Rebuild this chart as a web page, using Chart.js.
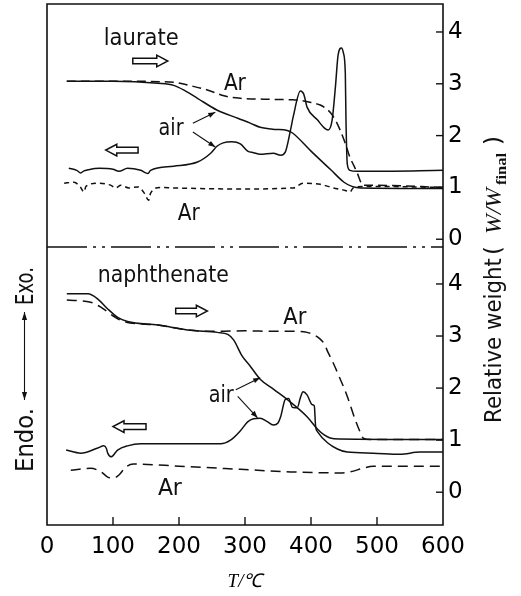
<!DOCTYPE html>
<html><head><meta charset="utf-8">
<script src="https://cdn.jsdelivr.net/npm/chart.js@4"></script>
<style>html,body{margin:0;padding:0;background:#fff}canvas{display:block}</style>
</head><body>
<canvas id="c" width="521" height="596"></canvas>
<script>
// ---------- data (T in °C, value in relative-weight units of each panel) ----------
const xTicks = [0, 100, 200, 300, 400, 500, 600];
const wTicks = [0, 1, 2, 3, 4];

// laurate (upper panel)
const laurateTgAir = [[30,3.05],[100,3.05],[168,3.01],[192,2.97],[210,2.86],[228,2.72],[258,2.49],[290,2.33],[308,2.24],[323,2.16],[345,2.12],[364,2.10],[372,2.05],[400,1.70],[430,1.34],[450,1.10],[462,1.02],[475,0.99],[600,0.98]];
const laurateTgAr = [[30,3.05],[100,3.05],[192,3.03],[215,2.97],[243,2.88],[265,2.78],[278,2.74],[293,2.72],[340,2.70],[373,2.69],[384,2.68],[400,2.64],[414,2.59],[422,2.53],[429,2.45],[437,2.30],[444,2.11],[452,1.85],[459,1.58],[465,1.42],[470,1.28],[479,1.04],[500,1.04],[600,1.00]];
const laurateDtaAir = [[33,1.37],[45,1.33],[51,1.28],[56,1.32],[62,1.34],[79,1.37],[100,1.35],[109,1.31],[122,1.37],[142,1.33],[153,1.27],[157,1.33],[192,1.41],[228,1.49],[248,1.66],[258,1.80],[267,1.86],[280,1.88],[293,1.84],[304,1.70],[313,1.67],[323,1.64],[343,1.66],[354,1.62],[361,1.68],[369,2.11],[373,2.36],[384,2.86],[389,2.80],[394,2.55],[410,2.30],[420,2.15],[426,2.11],[432,2.30],[437,2.94],[441,3.55],[446,3.69],[449,3.60],[452,3.20],[453,2.30],[455,1.45],[459,1.33],[470,1.31],[494,1.31],[600,1.33]];
const laurateDtaAr = [[26,1.08],[41,1.10],[51,1.00],[56,0.91],[59,1.02],[77,1.08],[97,1.04],[104,0.99],[112,1.04],[124,0.99],[138,1.01],[148,0.88],[154,0.75],[157,0.89],[172,1.00],[192,0.99],[293,0.97],[373,0.99],[388,1.08],[414,1.06],[434,0.99],[452,0.94],[459,0.91],[464,0.99],[479,1.02],[600,1.00]];

// naphthenate (lower panel)
const naphTgAir = [[30,3.81],[62,3.81],[77,3.71],[92,3.52],[107,3.36],[122,3.28],[168,3.21],[218,3.11],[258,3.07],[274,3.03],[283,2.92],[295,2.63],[308,2.42],[323,2.17],[344,1.97],[364,1.78],[394,1.45],[410,1.21],[420,1.10],[429,1.04],[444,1.02],[600,1.01]];
const naphTgAr = [[30,3.69],[66,3.65],[82,3.55],[101,3.38],[116,3.28],[168,3.21],[218,3.11],[258,3.09],[300,3.10],[343,3.09],[380,3.09],[394,3.07],[405,3.02],[414,2.94],[420,2.85],[426,2.68],[433,2.50],[440,2.30],[455,1.84],[467,1.39],[475,1.14],[479,1.04],[490,1.01],[600,1.01]];
const naphDtaAir = [[29,0.81],[51,0.75],[77,0.85],[86,0.89],[90,0.84],[92,0.75],[97,0.68],[107,0.81],[122,0.89],[142,0.93],[263,0.93],[278,1.00],[293,1.18],[304,1.35],[313,1.41],[323,1.42],[333,1.36],[343,1.29],[350,1.33],[354,1.45],[361,1.78],[366,1.80],[372,1.63],[379,1.62],[384,1.82],[388,1.93],[394,1.87],[402,1.68],[405,1.66],[407,1.26],[410,1.16],[425,0.95],[440,0.83],[455,0.77],[494,0.75],[535,0.73],[565,0.77],[600,0.77]];
const naphDtaAr = [[36,0.42],[66,0.46],[82,0.39],[92,0.29],[100,0.27],[109,0.33],[119,0.48],[131,0.54],[200,0.50],[293,0.44],[369,0.39],[444,0.37],[459,0.39],[479,0.46],[494,0.50],[546,0.50],[600,0.50]];

// ---------- chart ----------
const INK = '#111';
const SANS = '"DejaVu Sans", sans-serif';
const pts = a => a.map(([x, y]) => ({x, y}));
function ds(label, data, axis, dash) {
  return {label, data: pts(data), yAxisID: axis, borderColor: INK, borderWidth: 1.5,
    borderDash: dash || [], pointRadius: 0, fill: false, cubicInterpolationMode: 'monotone'};
}

// annotation text (T, value, axis), arrows etc.
const texts = [
  {t: 'laurate', x: 86, y: 3.75, ax: 'yTop', w: 75},
  {t: 'Ar', x: 268, y: 2.88, ax: 'yTop', w: 22},
  {t: 'air', x: 169, y: 2.01, ax: 'yTop', w: 25},
  {t: 'Ar', x: 198, y: 0.37, ax: 'yTop', w: 22},
  {t: 'naphthenate', x: 77, y: 4.04, ax: 'yBot', w: 131},
  {t: 'Ar', x: 358, y: 3.23, ax: 'yBot', w: 23},
  {t: 'air', x: 245, y: 1.74, ax: 'yBot', w: 25},
  {t: 'Ar', x: 168, y: -0.06, ax: 'yBot', w: 24}
];
const hollow = [
  {x1: 130, x2: 183, y: 3.44, ax: 'yTop', dir: 1},
  {x1: 89, x2: 138, y: 1.72, ax: 'yTop', dir: -1},
  {x1: 195, x2: 243, y: 3.48, ax: 'yBot', dir: 1},
  {x1: 100, x2: 150, y: 1.26, ax: 'yBot', dir: -1}
];
const leaders = [
  {x1: 221, y1: 2.24, x2: 255, y2: 2.45, ax: 'yTop'},
  {x1: 221, y1: 2.07, x2: 255, y2: 1.78, ax: 'yTop'},
  {x1: 286, y1: 1.97, x2: 323, y2: 2.20, ax: 'yBot'},
  {x1: 289, y1: 1.84, x2: 319, y2: 1.43, ax: 'yBot'}
];

function fitText(ctx, t, x, y, w) {
  const m = ctx.measureText(t).width;
  ctx.save(); ctx.translate(x, y); ctx.scale(w / m, 1); ctx.fillText(t, 0, 0); ctx.restore();
}
function line(ctx, x1, y1, x2, y2) { ctx.beginPath(); ctx.moveTo(x1, y1); ctx.lineTo(x2, y2); ctx.stroke(); }

const framePlugin = {
  id: 'frame',
  afterDraw(chart) {
    const {ctx, chartArea: a, scales} = chart;
    const yT = scales.yTop, yB = scales.yBot, xs = scales.x;
    ctx.save();
    ctx.strokeStyle = INK; ctx.fillStyle = INK; ctx.lineWidth = 1.6;
    ctx.beginPath();
    ctx.moveTo(a.left, a.top); ctx.lineTo(a.right, a.top); ctx.lineTo(a.right, a.bottom);
    ctx.lineTo(a.left, a.bottom); ctx.closePath(); ctx.stroke();
    // panel divider (dash-dot)
    ctx.lineWidth = 1.3; ctx.setLineDash([40, 6, 3, 6, 3, 6]);
    line(ctx, a.left, yT.bottom, a.right, yT.bottom);
    ctx.setLineDash([]);
    // inward tick marks
    ctx.lineWidth = 1.4;
    xTicks.slice(1, -1).forEach(v => { const p = xs.getPixelForValue(v); line(ctx, p, a.bottom, p, a.bottom - 8); });
    [yT, yB].forEach(s => wTicks.forEach(v => { const p = s.getPixelForValue(v); line(ctx, a.right - 7, p, a.right, p); }));

    // annotation texts
    ctx.font = '23px ' + SANS; ctx.textAlign = 'left'; ctx.textBaseline = 'alphabetic';
    texts.forEach(o => fitText(ctx, o.t, xs.getPixelForValue(o.x), scales[o.ax].getPixelForValue(o.y), o.w));

    // hollow arrows
    hollow.forEach(o => {
      const s = scales[o.ax];
      const y = s.getPixelForValue(o.y);
      let x1 = xs.getPixelForValue(o.x1), x2 = xs.getPixelForValue(o.x2);
      const hl = 11, bh = 2.8, hh = 5.8;
      ctx.beginPath();
      if (o.dir > 0) {
        ctx.moveTo(x1, y - bh); ctx.lineTo(x2 - hl, y - bh); ctx.lineTo(x2 - hl, y - hh); ctx.lineTo(x2, y);
        ctx.lineTo(x2 - hl, y + hh); ctx.lineTo(x2 - hl, y + bh); ctx.lineTo(x1, y + bh);
      } else {
        ctx.moveTo(x2, y - bh); ctx.lineTo(x1 + hl, y - bh); ctx.lineTo(x1 + hl, y - hh); ctx.lineTo(x1, y);
        ctx.lineTo(x1 + hl, y + hh); ctx.lineTo(x1 + hl, y + bh); ctx.lineTo(x2, y + bh);
      }
      ctx.closePath(); ctx.fillStyle = '#fff'; ctx.fill(); ctx.lineWidth = 1.5; ctx.stroke(); ctx.fillStyle = INK;
    });

    // leader lines with arrowheads
    ctx.lineWidth = 1.1;
    leaders.forEach(o => {
      const s = scales[o.ax];
      const X1 = xs.getPixelForValue(o.x1), Y1 = s.getPixelForValue(o.y1);
      const X2 = xs.getPixelForValue(o.x2), Y2 = s.getPixelForValue(o.y2);
      line(ctx, X1, Y1, X2, Y2);
      const ang = Math.atan2(Y2 - Y1, X2 - X1), L = 7, W = 2.6;
      ctx.beginPath();
      ctx.moveTo(X2, Y2);
      ctx.lineTo(X2 - L * Math.cos(ang) + W * Math.sin(ang), Y2 - L * Math.sin(ang) - W * Math.cos(ang));
      ctx.lineTo(X2 - L * Math.cos(ang) - W * Math.sin(ang), Y2 - L * Math.sin(ang) + W * Math.cos(ang));
      ctx.closePath(); ctx.fill();
    });

    // left label: Endo. <--> Exo.
    ctx.save();
    ctx.translate(33, 472); ctx.rotate(-Math.PI / 2);
    ctx.font = '24px ' + SANS;
    fitText(ctx, 'Endo.', 0, 0, 64);
    fitText(ctx, 'Exo.', 167, 0, 38);
    ctx.lineWidth = 1.1;
    const ay = -8.5;
    line(ctx, 72, ay, 160, ay);
    [[72, 1], [160, -1]].forEach(([px, d]) => {
      ctx.beginPath(); ctx.moveTo(px, ay); ctx.lineTo(px + d * 8, ay - 2.6); ctx.lineTo(px + d * 8, ay + 2.6); ctx.closePath(); ctx.fill();
    });
    ctx.restore();

    // right title: Relative weight ( W/W_final )
    ctx.save();
    ctx.translate(501, 423); ctx.rotate(-Math.PI / 2);
    ctx.font = '23px ' + SANS;
    fitText(ctx, 'Relative weight', 0, 0, 165);
    ctx.fillText('(', 168, 0);
    ctx.font = 'italic 23px "Liberation Serif", serif';
    fitText(ctx, 'W/W', 189, 0, 46);
    ctx.font = 'bold 14px "Liberation Serif", serif';
    fitText(ctx, 'final', 238, 5, 32);
    ctx.font = '23px ' + SANS;
    ctx.fillText(')', 278, 0);
    ctx.restore();

    ctx.restore();
  }
};

const yFit = s => { s.width = 78; s.paddingTop = 0; s.paddingBottom = 0; };

new Chart(document.getElementById('c'), {
  type: 'line',
  data: {
    datasets: [
      ds('laurate TG air', laurateTgAir, 'yTop'),
      ds('laurate TG Ar', laurateTgAr, 'yTop', [9, 5]),
      ds('laurate DTA air', laurateDtaAir, 'yTop'),
      ds('laurate DTA Ar', laurateDtaAr, 'yTop', [5, 4]),
      ds('naphthenate TG air', naphTgAir, 'yBot'),
      ds('naphthenate TG Ar', naphTgAr, 'yBot', [10, 6]),
      ds('naphthenate DTA air', naphDtaAir, 'yBot'),
      ds('naphthenate DTA Ar', naphDtaAr, 'yBot', [10, 6])
    ]
  },
  options: {
    responsive: false, animation: false, devicePixelRatio: 1, events: [],
    layout: {padding: {left: 47, top: 4, right: 0, bottom: 0}},
    plugins: {legend: {display: false}, tooltip: {enabled: false}},
    scales: {
      x: {
        type: 'linear', position: 'bottom', min: 0, max: 600,
        grid: {display: false, drawTicks: false}, border: {display: false},
        afterBuildTicks: s => { s.ticks = xTicks.map(v => ({value: v})); },
        afterFit: s => { s.height = 71; s.paddingLeft = 0; s.paddingRight = 0; },
        ticks: {color: '#000', font: {family: 'DejaVu Sans', size: 23}, padding: 8, autoSkip: false, maxRotation: 0},
        title: {display: true, text: 'T/℃', color: '#000', padding: {top: 0, bottom: 3},
          font: {family: 'Liberation Serif', style: 'italic', size: 19}}
      },
      yTop: {
        type: 'linear', position: 'right', stack: 'rw', stackWeight: 243,
        min: -0.15, max: 4.54,
        grid: {display: false, drawTicks: false}, border: {display: false},
        afterBuildTicks: s => { s.ticks = wTicks.map(v => ({value: v})); },
        afterFit: yFit,
        ticks: {color: '#000', font: {family: 'DejaVu Sans', size: 23}, padding: 5, callback: v => String(v)}
      },
      yBot: {
        type: 'linear', position: 'right', stack: 'rw', stackWeight: 278,
        min: -0.63, max: 4.71,
        grid: {display: false, drawTicks: false}, border: {display: false},
        afterBuildTicks: s => { s.ticks = wTicks.map(v => ({value: v})); },
        afterFit: yFit,
        ticks: {color: '#000', font: {family: 'DejaVu Sans', size: 23}, padding: 5, callback: v => String(v)}
      }
    }
  },
  plugins: [framePlugin]
});
</script>
</body></html>
